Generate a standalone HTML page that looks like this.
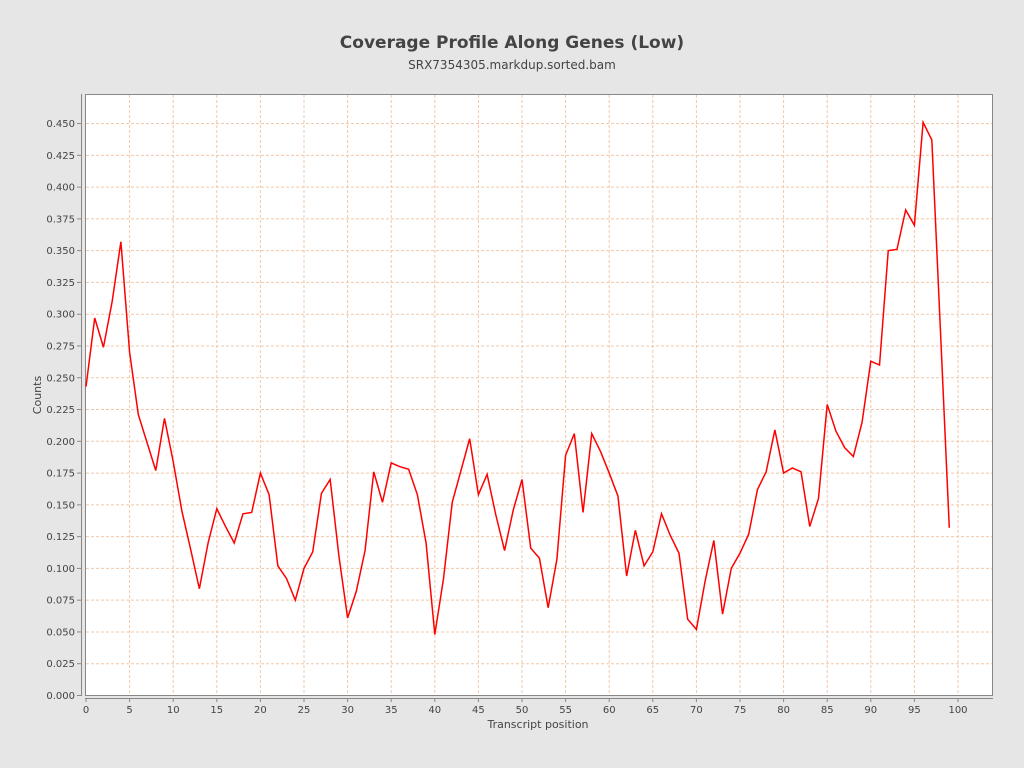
<!DOCTYPE html>
<html><head><meta charset="utf-8"><style>
html,body{margin:0;padding:0;background:#e6e6e6;width:1024px;height:768px;overflow:hidden}
svg{display:block;font-family:"DejaVu Sans","Liberation Sans",sans-serif}
</style></head><body>
<svg id="c" width="1024" height="768" xmlns="http://www.w3.org/2000/svg">
<rect width="1024" height="768" fill="#e6e6e6"/>
<text x="512" y="48" text-anchor="middle" font-size="17" font-weight="bold" fill="#444">Coverage Profile Along Genes (Low)</text>
<text x="512" y="69" text-anchor="middle" font-size="12" fill="#444">SRX7354305.markdup.sorted.bam</text>
<rect x="85.5" y="94.5" width="907" height="601" fill="#fff" stroke="#888"/>
<g id="grid"></g>
<line x1="81.5" y1="94" x2="81.5" y2="696" stroke="#888"/>
<line x1="85" y1="698.5" x2="993" y2="698.5" stroke="#888"/>
<g id="ticks" font-size="10" fill="#444"></g>
<text x="538" y="728" text-anchor="middle" font-size="11" fill="#444">Transcript position</text>
<text transform="translate(41,395) rotate(-90)" text-anchor="middle" font-size="11" fill="#444">Counts</text>
<polyline id="line" fill="none" stroke="#f00" stroke-width="1.5"/>
</svg>
<script>
var d=[0.243,0.297,0.274,0.31,0.357,0.27,0.221,0.199,0.177,0.218,0.184,0.145,0.115,0.084,0.12,0.147,0.133,0.12,0.143,0.144,0.175,0.158,0.102,0.092,0.075,0.1,0.113,0.159,0.17,0.11,0.061,0.082,0.114,0.176,0.152,0.183,0.18,0.178,0.158,0.12,0.048,0.092,0.152,0.177,0.202,0.158,0.174,0.142,0.114,0.146,0.170,0.116,0.108,0.069,0.107,0.189,0.206,0.144,0.206,0.192,0.175,0.157,0.094,0.13,0.102,0.113,0.143,0.126,0.112,0.06,0.052,0.09,0.122,0.064,0.1,0.112,0.127,0.162,0.176,0.209,0.175,0.179,0.176,0.133,0.155,0.229,0.208,0.195,0.188,0.215,0.263,0.26,0.35,0.351,0.382,0.37,0.451,0.437,0.285,0.132];
function X(v){return 86+v*8.72}function Y(v){return 695.5-v*1271}
var ns="http://www.w3.org/2000/svg",g=document.getElementById('grid'),t=document.getElementById('ticks');
function el(p,n,a,txt){var e=document.createElementNS(ns,n);for(var k in a)e.setAttribute(k,a[k]);if(txt!=null)e.textContent=txt;p.appendChild(e);}
for(var i=0;i<=100;i+=5){var x=X(i);if(i>0)el(g,'line',{x1:x,y1:95,x2:x,y2:695,stroke:'#f2c8a8','stroke-dasharray':'3,2','stroke-width':1});
el(t,'line',{x1:x,y1:698,x2:x,y2:702,stroke:'#888'});el(t,'text',{x:x,y:713,'text-anchor':'middle'},i);}
for(var j=0;j<=18;j++){var v=j*0.025,y=Y(v);if(j>0)el(g,'line',{x1:86,y1:y,x2:992,y2:y,stroke:'#f2c8a8','stroke-dasharray':'3,2','stroke-width':1});
el(t,'line',{x1:77,y1:y,x2:81,y2:y,stroke:'#888'});el(t,'text',{x:75,y:y+3.5,'text-anchor':'end'},v.toFixed(3));}
document.getElementById('line').setAttribute('points',d.map(function(v,i){return X(i)+','+Y(v)}).join(' '));
</script>
</body></html>
